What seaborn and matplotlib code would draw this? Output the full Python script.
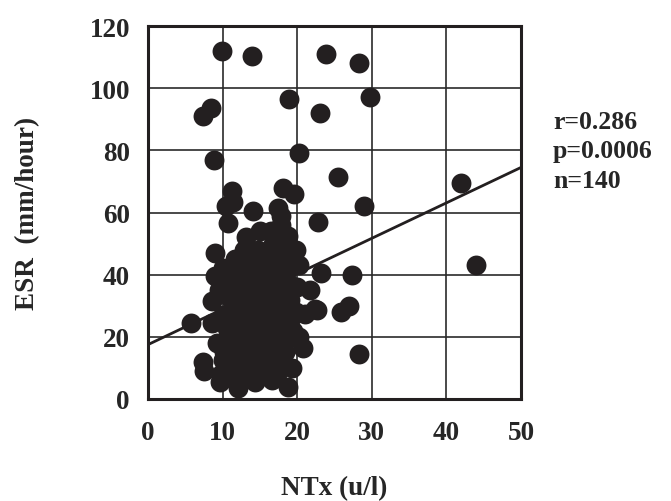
"""NTx vs ESR scatter with regression line."""
import matplotlib
matplotlib.use("Agg")
import matplotlib.pyplot as plt
import numpy as np
import pandas as pd
import seaborn as sns
from matplotlib.ticker import MultipleLocator

# NTx (u/l), ESR (mm/hour)
ntx = [
    9.9, 14.0, 23.8, 28.3, 29.7, 23.0, 18.9, 8.5, 7.4, 8.8,
    20.3, 25.4, 11.2, 11.4, 10.4, 18.1, 19.6, 14.1, 17.4, 17.8,
    22.8, 29.0, 41.9, 43.9, 23.2, 27.4, 27.0, 25.9, 28.3, 21.7,
    22.4, 21.0, 20.8, 20.2, 17.8, 10.7, 18.7, 16.8, 9.0, 11.7,
    16.0, 19.5, 9.0, 13.3, 16.8, 20.0, 8.6, 11.0, 14.1, 18.1,
    22.7, 5.8, 8.6, 10.6, 13.7, 16.8, 19.5, 9.3, 12.3, 16.0,
    7.4, 7.5, 9.7, 12.1, 14.4, 16.6, 18.7, 12.3, 14.6, 17.7,
    10.0, 11.0,
    10.2, 10.5, 10.0, 10.3, 10.1, 9.8,
    11.2, 11.5, 11.0, 11.4, 11.8, 11.6,
    12.2, 12.5, 12.0, 12.4, 12.6, 12.2, 12.8,
    13.0, 13.2, 13.5, 13.0, 13.4, 13.8, 13.1,
    14.2, 14.5, 14.0, 14.6, 14.3, 14.8,
    15.0, 15.3, 15.1, 15.5, 15.2, 15.7, 15.4, 15.0,
    16.2, 16.5, 16.3, 16.6, 16.1, 16.9, 16.5, 16.2,
    17.1, 17.4, 17.2, 17.6, 17.0, 17.5, 17.3,
    18.3, 18.5, 18.0, 18.6, 18.2, 18.4,
    19.2, 19.0, 19.3,
    19.9, 20.3, 9.5, 19.8,
]
esr = [
    112, 110.5, 111, 108, 97, 92, 96.5, 93.5, 91, 77,
    79, 71.5, 67, 63.5, 62, 68, 66, 60.5, 61.5, 59,
    57, 62, 69.5, 43, 40.5, 40, 30, 28, 14.5, 35,
    29, 27.5, 16.5, 43, 56, 56.5, 52.5, 50, 47, 45,
    46, 43.5, 39.5, 39, 39, 36, 31.5, 32.5, 33, 30.5,
    28.5, 24.5, 24.5, 23, 25.5, 24.5, 22, 18, 18, 19,
    12, 9, 5.5, 3.5, 5.5, 6, 4, 11.5, 10.5, 12.5,
    12.5, 8.5,
    15, 19, 27, 35, 42, 8,
    21, 28, 37, 41, 14, 6,
    10, 15, 24, 30, 35, 42, 48,
    7, 13, 20, 28, 36, 44, 52,
    16, 22, 29, 37, 42, 48,
    8, 12, 18, 26, 31, 35, 41, 54,
    9, 15, 22, 28, 33, 43, 54, 36,
    17, 21, 27, 34, 40, 47, 8,
    15, 19, 25, 38, 42, 49,
    26, 32, 10,
    28, 20, 35, 48,
]

# fitted regression line end points
fit_x = [0, 50]
fit_y = [17.5, 74.5]

stats_lines = ["r=0.286", "p=0.0006", "n=140"]

df = pd.DataFrame({"NTx": ntx, "ESR": esr})
fit_df = pd.DataFrame({"NTx": fit_x, "ESR": fit_y})

sns.set_theme(style="white")
plt.rcParams["font.family"] = ["Liberation Serif", "DejaVu Serif"]
plt.rcParams["font.weight"] = "bold"

ink = "#231f20"
fig = plt.figure(figsize=(6.71, 5.02), dpi=100)
ax = fig.add_axes([0.2206, 0.2032, 0.5559, 0.743])

sns.scatterplot(data=df, x="NTx", y="ESR", ax=ax, s=205, color=ink,
                linewidth=0, zorder=3, legend=False)
sns.lineplot(data=fit_df, x="NTx", y="ESR", ax=ax, color=ink,
             linewidth=2.0, zorder=4)

ax.set_xlim(0, 50)
ax.set_ylim(0, 120)
ax.xaxis.set_major_locator(MultipleLocator(10))
ax.xaxis.set_minor_locator(MultipleLocator(2))
ax.yaxis.set_major_locator(MultipleLocator(20))
ax.yaxis.set_minor_locator(MultipleLocator(5))
ax.grid(True, which="major", color="#2a2a2a", linewidth=1.2, zorder=1)
ax.set_axisbelow(True)

for sp in ax.spines.values():
    sp.set_linewidth(2.2)
    sp.set_color(ink)

ax.tick_params(axis="both", which="major", direction="out", length=7,
               width=1.5, color=ink, labelsize=19.5, pad=6)
ax.tick_params(axis="x", which="major", pad=8)
ax.tick_params(axis="both", which="minor", direction="out", length=3.5,
               width=1.0, color=ink)
for lab in ax.get_xticklabels() + ax.get_yticklabels():
    lab.set_fontweight("bold")

ax.set_xlabel("NTx (u/l)", fontsize=19.5, fontweight="bold")
ax.set_ylabel("ESR  (mm/hour)", fontsize=19.5, fontweight="bold")
ax.xaxis.set_label_coords(0.5, -0.203)
ax.yaxis.set_label_coords(-0.29, 0.5)

for i, txt in enumerate(stats_lines):
    ax.text(1.086, 0.745 - i * 0.08, txt, transform=ax.transAxes,
            fontsize=18.5, fontweight="bold", va="center", ha="left")

fig.savefig("out.png", dpi=100)
